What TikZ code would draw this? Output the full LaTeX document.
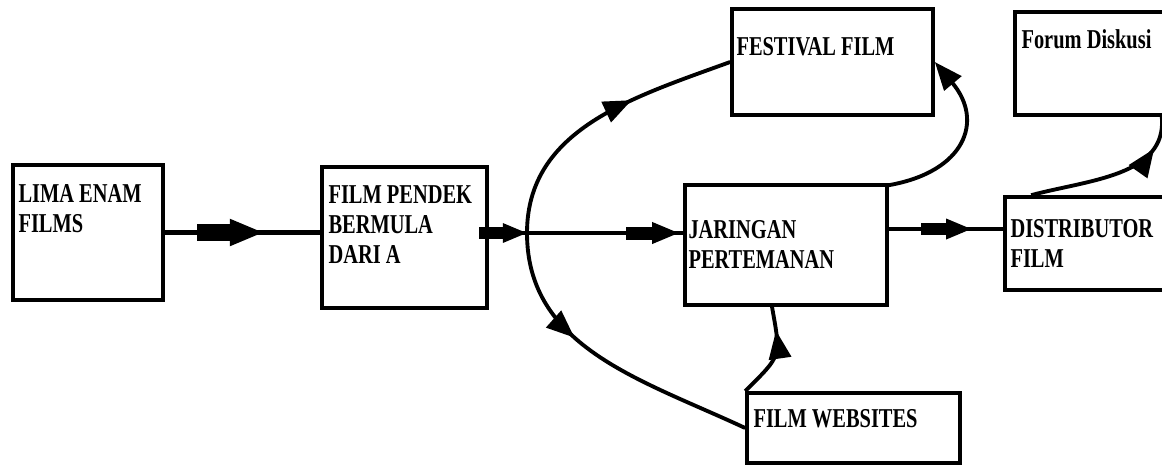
\documentclass[tikz,border=0pt]{standalone}
\usepackage{fontspec}
\setmainfont[FakeStretch=0.75]{Liberation Serif}
\usetikzlibrary{arrows.meta, decorations.markings, positioning}

% thick shaft + triangle, drawn on the line
\newcommand{\fatTip}[1]{%
  \begin{scope}[scale=#1]
    \fill (-30pt,-3.7pt) rectangle (-14pt,3.7pt);
    \fill (-15pt,-6.3pt) -- (0pt,0pt) -- (-15pt,6.3pt) -- cycle;
  \end{scope}}

\tikzset{
  box/.style = {draw, rectangle, line width=2.1pt, inner sep=0pt},
  txt/.style = {inner sep=0pt, align=left, font=\fontsize{15.5}{17}\selectfont\bfseries},
  vecArrow/.style 2 args = {line width=2.6pt, decoration={markings,
      mark=at position #1 with {\fatTip{#2}}}, postaction={decorate}},
  curveArrow/.style = {line width=2.2pt, decoration={markings,
      mark=at position #1 with {\arrow{Triangle[length=16pt,width=12.5pt]}}},
      postaction={decorate}}
}

\begin{document}
\begin{tikzpicture}[x=0.02cm, y=0.02cm]
  \clip (0,0) rectangle (1162,-467);

  \node[box, minimum width=3cm, minimum height=2.7cm] (node_Lima) at (88,-232.5) {};
  \node[box, minimum width=3.3cm, minimum height=2.82cm] (node_Pendek) at (404.5,-237.5) {};
  \node[box, minimum width=4.02cm, minimum height=2.12cm] (node_Festival) at (832.5,-62) {};
  \node[box, minimum width=3.06cm, minimum height=2.06cm] (node_Forum) at (1091.5,-63.5) {};
  \node[box, minimum width=4.04cm, minimum height=2.4cm] (node_Jaringan) at (786,-245) {};
  \node[box, minimum width=3.26cm, minimum height=1.86cm] (node_Distributor) at (1086.5,-243.5) {};
  \node[box, minimum width=4.26cm, minimum height=1.4cm] (node_Websites) at (853.5,-428) {};
  \coordinate (s) at (527,-233); % split point

  % texts, top left in each box
  \node[txt, below right=0.42cm and 0.14cm of node_Lima.north west] (txt_Lima) {LIMA ENAM\\FILMS};
  \node[txt, below right=0.40cm and 0.16cm of node_Pendek.north west] (txt_Pendek) {FILM PENDEK\\BERMULA\\DARI A};
  \node[txt, below right=0.60cm and 0.12cm of node_Festival.north west] (txt_Festival) {FESTIVAL FILM};
  \node[txt, below right=0.38cm and 0.16cm of node_Forum.north west] (txt_Forum) {Forum Diskusi};
  \node[txt, below right=0.74cm and 0.10cm of node_Jaringan.north west] (txt_Jaringan) {JARINGAN\\PERTEMANAN};
  \node[txt, below right=0.48cm and 0.14cm of node_Distributor.north west] (txt_Distributor) {DISTRIBUTOR\\FILM};
  \node[txt, below right=0.36cm and 0.16cm of node_Websites.north west] (txt_Websites) {FILM WEBSITES};

  % straight arrows
  \draw[vecArrow={0.63}{1.25}] (node_Lima.east) -- (node_Lima.east -| node_Pendek.west);
  \draw[vecArrow={0.99}{0.9}] (s -| node_Pendek.east) -- (s);
  \draw[vecArrow={0.97}{1}] (s) -- (s -| node_Jaringan.west);
  \draw[vecArrow={0.72}{0.95}] ([yshift=0.32cm]node_Jaringan.east) -- ([yshift=0.32cm]node_Jaringan.east -| node_Distributor.west);

  % curved arrows
  \draw[curveArrow=0.63] (s) to[out=90, in=200] (node_Festival.west);
  \draw[curveArrow=0.38] (s) to[out=-90, in=155] (node_Websites.west);
  \draw[line width=2.2pt, -{Triangle[length=16pt,width=12.5pt]}] ([yshift=-0.04cm]node_Jaringan.north east)
    to[out=10, in=-50, looseness=1.5] (node_Festival.east);
  \draw[curveArrow=0.75] (node_Websites.north west) to[out=45, in=-80, looseness=1.5] ([xshift=-0.28cm]node_Jaringan.south);
  \draw[curveArrow=0.8] ([xshift=0.56cm]node_Distributor.north west) to[out=15, in=-85] ([xshift=-0.16cm]node_Forum.south east);
\end{tikzpicture}
\end{document}
